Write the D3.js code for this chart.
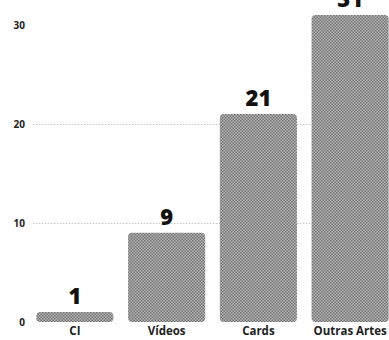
<!DOCTYPE html>
<html><head><meta charset="utf-8">
<script src="https://cdn.jsdelivr.net/npm/d3@7"></script>
<style>html,body{margin:0;padding:0;background:#fff;}svg{display:block;}</style>
</head><body>
<svg id="chart" width="389" height="340"></svg>
<script>
const categories = ["CI", "Vídeos", "Cards", "Outras Artes"];
const values = [1, 9, 21, 31];
const yTicks = [0, 10, 20, 30];

const svg = d3.select("#chart");
const defs = svg.append("defs");
const pat = defs.append("pattern").attr("id","ht").attr("patternUnits","userSpaceOnUse")
  .attr("width",3).attr("height",3);
pat.append("rect").attr("width",3).attr("height",3).attr("fill","#b8b8b8");
pat.append("rect").attr("x",0).attr("y",0).attr("width",1.5).attr("height",1.5).attr("fill","#707070");
pat.append("rect").attr("x",1.5).attr("y",1.5).attr("width",1.5).attr("height",1.5).attr("fill","#707070");

const x = d3.scaleBand().domain(categories).range([29, 396]).paddingInner(0.16).paddingOuter(0.08);
const y = d3.scaleLinear().domain([0, 31]).range([322, 15]);

// gridlines
svg.append("g").selectAll("line").data(yTicks.filter(t => t > 0 && t < 30)).join("line")
  .attr("x1", 33).attr("x2", 389)
  .attr("y1", d => Math.round(y(d)) + 0.5).attr("y2", d => Math.round(y(d)) + 0.5)
  .attr("stroke", "#c8c8c8").attr("stroke-width", 1).attr("stroke-dasharray", "1.5,1.5");

// y axis labels
const yAxis = d3.axisLeft(y).tickValues(yTicks).tickSize(0).tickPadding(0);
const ya = svg.append("g").attr("transform", "translate(25,0)").call(yAxis);
ya.select(".domain").remove();
ya.selectAll("text").attr("font-family", "Open Sans, sans-serif").attr("font-weight", 700)
  .attr("font-size", 10).attr("fill", "#222");

// bars
svg.append("g").selectAll("rect").data(values).join("rect")
  .attr("x", (d, i) => x(categories[i]))
  .attr("y", d => y(d))
  .attr("width", x.bandwidth())
  .attr("height", d => y(0) - y(d))
  .attr("rx", 4).attr("ry", 4)
  .attr("fill", "url(#ht)");

// value labels
svg.append("g").selectAll("text").data(values).join("text")
  .attr("x", (d, i) => x(categories[i]) + x.bandwidth() / 2)
  .attr("y", d => y(d) - 8)
  .attr("text-anchor", "middle")
  .attr("font-family", "Open Sans, sans-serif").attr("font-weight", 800)
  .attr("font-size", 22).attr("fill", "#111")
  .text(d => d);

// x axis labels
const xAxis = d3.axisBottom(x).tickSize(0).tickPadding(0);
const xa = svg.append("g").attr("transform", "translate(0,327)").call(xAxis);
xa.select(".domain").remove();
xa.selectAll("text").attr("font-family", "Open Sans, sans-serif").attr("font-weight", 700)
  .attr("font-size", 11.5).attr("fill", "#222");
</script>
</body></html>
